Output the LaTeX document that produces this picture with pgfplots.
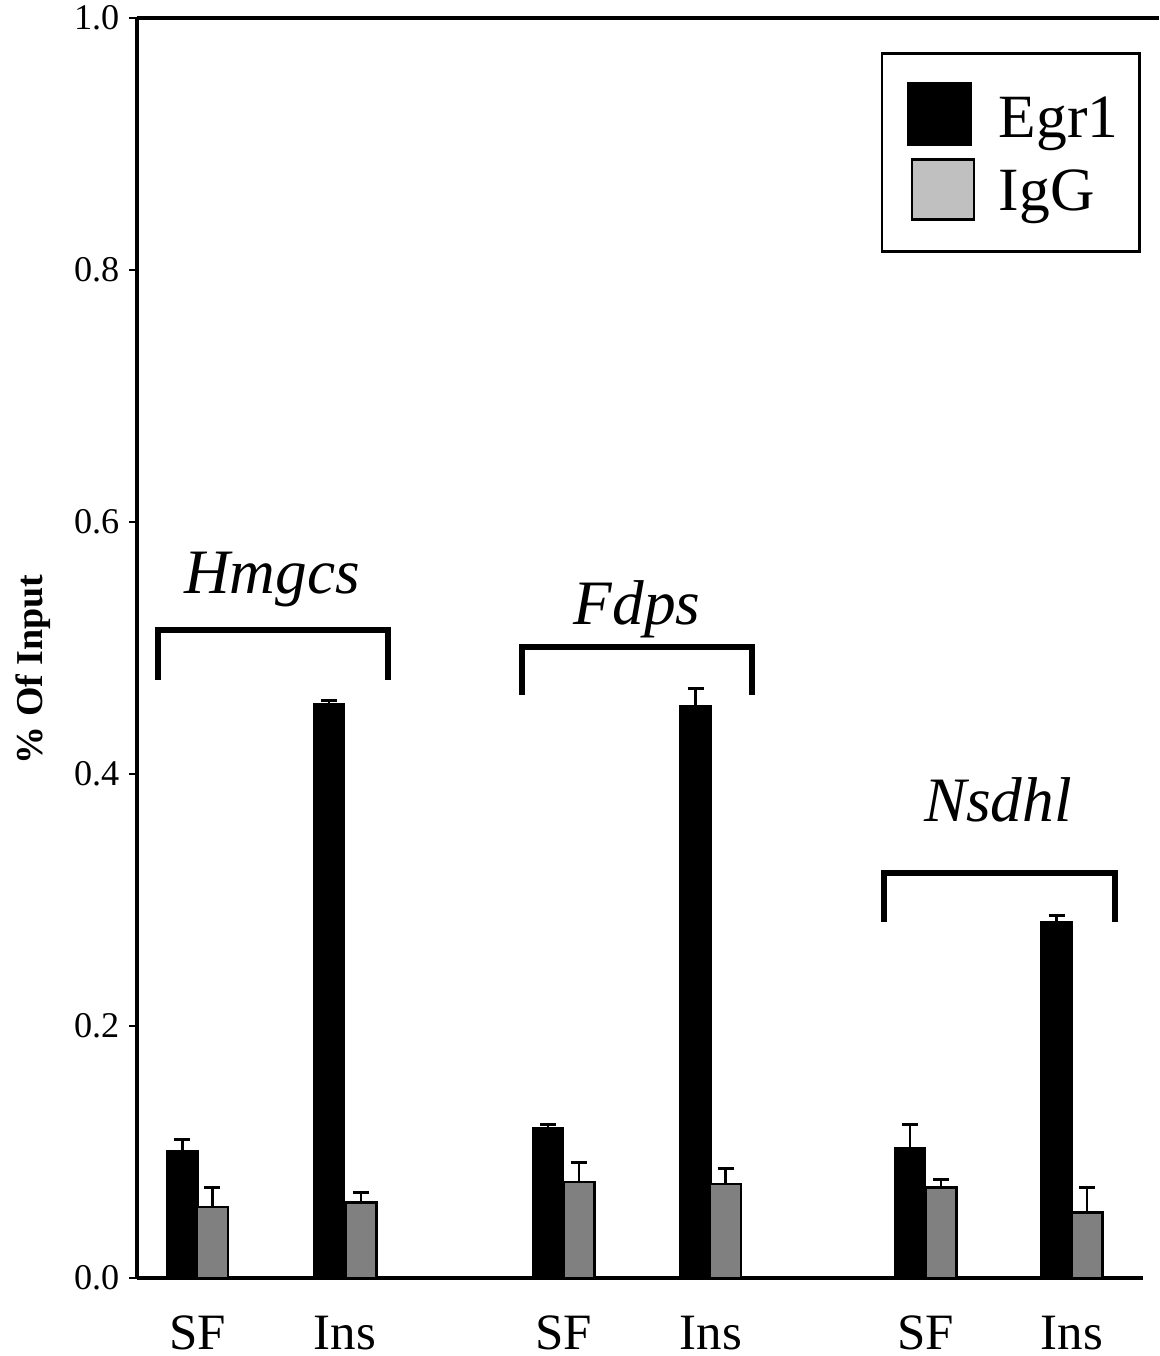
\documentclass[border=0pt]{standalone}
\usepackage{fontspec}
\setmainfont{Liberation Serif}
\usepackage{pgfplots}
\pgfplotsset{compat=1.18}
\definecolor{barGray}{RGB}{128,128,128}
\definecolor{legGray}{RGB}{192,192,192}
\begin{document}
\begin{tikzpicture}
\useasboundingbox (-13.7mm,-7.8mm) rectangle (102.2mm,127.8mm);
\begin{axis}[
  scale only axis,
  width=100.6mm, height=126mm,
  xmin=1.37, xmax=11.43,
  ymin=0, ymax=1,
  axis lines*=left,
  axis line style={line width=1pt},
  clip=false,
  ytick={0,0.2,0.4,0.6,0.8,1.0},
  yticklabel style={/pgf/number format/fixed,/pgf/number format/precision=1,/pgf/number format/fixed zerofill, font=\fontsize{10.3}{12}\selectfont, inner sep=0pt, xshift=-0.9mm},
  /pgf/number format/assume math mode=true,
  tick align=outside,
  y tick style={line width=0.8pt, black},
  major tick length=0.8mm,
  xtick={1.98,3.45,5.64,7.11,9.26,10.72},
  xticklabels={SF,Ins,SF,Ins,SF,Ins},
  x tick style={draw=none},
  xticklabel style={font=\fontsize{14.5}{16}\selectfont, inner sep=0pt, yshift=-2.9mm},
  ylabel={\textbf{\% Of Input}},
  ylabel style={at={(axis description cs:-0.1035,0.483)}, anchor=center, font=\fontsize{10.8}{13}\selectfont},
  ybar, bar width=0.31, bar shift=0pt,
  error bars/y dir=plus, error bars/y explicit,
  error bars/error bar style={line width=0.85pt, black},
  error bars/error mark options={rotate=90, mark size=0.8mm, line width=0.85pt, black},
  legend style={at={(axis description cs:0.998,0.973)}, anchor=north east, draw=black, line width=0.8pt, font=\fontsize{17.5}{21}\selectfont, inner xsep=1.4mm, inner ysep=2.9mm, row sep=0.9mm},
  legend cell align=left,
]
\addlegendimage{legend image code/.code={\draw[fill=black,draw=black,line width=0.6pt] (0mm,-2.5mm) rectangle (6.3mm,3.6mm); \path[draw=none,fill=none] (-1.2mm,0) -- (8.4mm,0);}}
\addlegendentry{Egr1}
\addlegendimage{legend image code/.code={\draw[fill=legGray,draw=black,line width=0.6pt] (0.4mm,-2.7mm) rectangle (6.6mm,3.3mm); \path[draw=none,fill=none] (-1.2mm,0) -- (8.4mm,0);}}
\addlegendentry{IgG}
% Egr1
\addplot[fill=black, draw=black, line width=0.5pt, forget plot] coordinates {
  (1.825,0.101) +- (0,0.009)
  (3.29,0.456) +- (0,0.002)
  (5.48,0.119) +- (0,0.003)
  (6.955,0.454) +- (0,0.014)
  (9.10,0.103) +- (0,0.019)
  (10.565,0.2825) +- (0,0.0055)
};
% IgG
\addplot[fill=barGray, draw=black, line width=0.7pt, forget plot] coordinates {
  (2.125,0.0563) +- (0,0.0157)
  (3.61,0.060) +- (0,0.008)
  (5.79,0.076) +- (0,0.016)
  (7.255,0.0746) +- (0,0.012)
  (9.41,0.072) +- (0,0.006)
  (10.87,0.052) +- (0,0.020)
};
% brackets
\addplot[sharp plot, draw=black, line width=1.7pt, forget plot, mark=none] coordinates {(1.58,0.4746)(1.58,0.514)(3.88,0.514)(3.88,0.4746)};
\addplot[sharp plot, draw=black, line width=1.7pt, forget plot, mark=none] coordinates {(5.22,0.4627)(5.22,0.5008)(7.52,0.5008)(7.52,0.4627)};
\addplot[sharp plot, draw=black, line width=1.7pt, forget plot, mark=none] coordinates {(8.84,0.2825)(8.84,0.3214)(11.15,0.3214)(11.15,0.2825)};
\node[anchor=base, font=\fontsize{18}{21}\selectfont\itshape] at (axis cs:2.72,0.543) {Hmgcs};
\node[anchor=base, font=\fontsize{18}{21}\selectfont\itshape] at (axis cs:6.37,0.519) {Fdps};
\node[anchor=base, font=\fontsize{18}{21}\selectfont\itshape] at (axis cs:9.98,0.362) {Nsdhl};
\draw[line width=1pt] (axis description cs:0,1) -- (axis description cs:1.0159,1);
\end{axis}
\end{tikzpicture}
\end{document}
